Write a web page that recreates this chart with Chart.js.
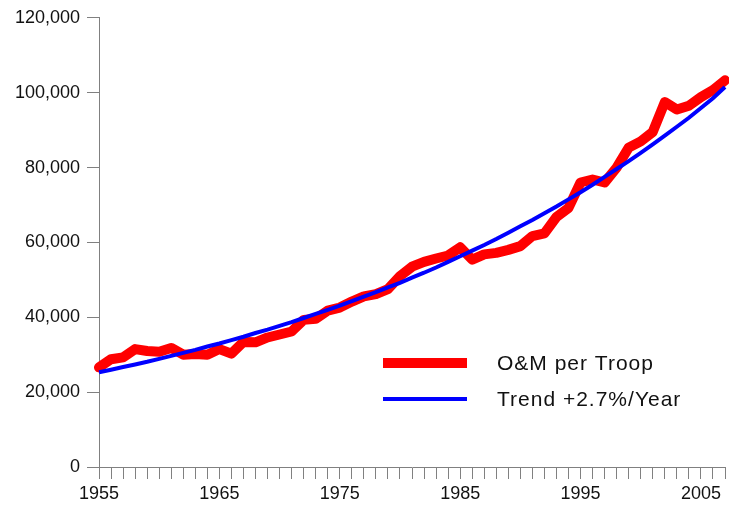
<!DOCTYPE html>
<html>
<head>
<meta charset="utf-8">
<script src="https://cdn.jsdelivr.net/npm/chart.js@4.4.1/dist/chart.umd.min.js"></script>
<style>
  html, body { margin: 0; padding: 0; background: #fff; }
  #wrap { position: relative; width: 729px; height: 508px; }
</style>
</head>
<body>
<div id="wrap"><canvas id="chart"></canvas></div>
<script>
const years = [
  1955, 1956, 1957, 1958, 1959, 1960, 1961, 1962, 1963, 1964,
  1965, 1966, 1967, 1968, 1969, 1970, 1971, 1972, 1973, 1974,
  1975, 1976, 1977, 1978, 1979, 1980, 1981, 1982, 1983, 1984,
  1985, 1986, 1987, 1988, 1989, 1990, 1991, 1992, 1993, 1994,
  1995, 1996, 1997, 1998, 1999, 2000, 2001, 2002, 2003, 2004,
  2005, 2006, 2007
];

const omPerTroop = [
  26600, 28800, 29300, 31500, 31000, 30800, 31800, 30000, 30200, 30000,
  31500, 30300, 33400, 33300, 34600, 35400, 36200, 39300, 39600, 41800,
  42600, 44200, 45600, 46200, 47500, 51000, 53500, 54800, 55700, 56500,
  58700, 55400, 56800, 57200, 58000, 59000, 61700, 62400, 66800, 69200,
  76000, 76800, 76000, 80000, 85300, 87000, 89500, 97500, 95500, 96500,
  98800, 100700, 103300
];

const trend = [
  25300, 26000, 26700, 27400, 28100, 28900, 29700, 30500, 31300, 32200,
  33000, 33900, 34800, 35800, 36700, 37700, 38700, 39800, 40900, 42000,
  43100, 44300, 45500, 46700, 48000, 49200, 50600, 51900, 53300, 54800,
  56300, 57800, 59300, 60900, 62600, 64300, 66000, 67800, 69600, 71500,
  73400, 75400, 77500, 79600, 81700, 83900, 86200, 88500, 90900, 93300,
  95900, 98500, 101500
];

const seriesNames = ["O&M per Troop", "Trend +2.7%/Year"];
const seriesColors = ["#ff0000", "#0000ff"];
const yMax = 120000;
const yStep = 20000;

const FONT = "'Liberation Sans', Arial, sans-serif";
const axisGray = "#808080";

// legend drawn inside the plot, lower right
const lineLegend = {
  id: "lineLegend",
  afterDraw(chart) {
    const ctx = chart.ctx;
    const rows = [
      { y: 363, width: 10 },
      { y: 399, width: 4 }
    ];
    ctx.save();
    rows.forEach((r, i) => {
      ctx.strokeStyle = seriesColors[i];
      ctx.lineWidth = r.width;
      ctx.lineCap = "butt";
      ctx.beginPath();
      ctx.moveTo(383, r.y);
      ctx.lineTo(467, r.y);
      ctx.stroke();

      ctx.fillStyle = "#111";
      ctx.font = "21px " + FONT;
      ctx.letterSpacing = "1px";
      ctx.textBaseline = "middle";
      ctx.textAlign = "left";
      ctx.fillText(seriesNames[i], 497, r.y + 1);
    });
    ctx.restore();
  }
};

new Chart(document.getElementById("chart"), {
  type: "line",
  data: {
    labels: years.map(String),
    datasets: [
      {
        label: seriesNames[1],
        data: trend,
        borderColor: seriesColors[1],
        borderWidth: 4,
        pointRadius: 0,
        tension: 0,
        order: 0
      },
      {
        label: seriesNames[0],
        data: omPerTroop,
        borderColor: seriesColors[0],
        borderWidth: 10,
        borderJoinStyle: "round",
        borderCapStyle: "round",
        pointRadius: 0,
        tension: 0,
        order: 1
      }
    ]
  },
  options: {
    responsive: true,
    maintainAspectRatio: false,
    animation: false,
    layout: { autoPadding: false, padding: { top: 17, right: -3, left: 0, bottom: 0 } },
    plugins: {
      legend: { display: false },
      tooltip: { enabled: false }
    },
    scales: {
      x: {
        type: "category",
        offset: false,
        grid: {
          offset: false,
          drawOnChartArea: false,
          drawTicks: true,
          tickLength: 12,
          color: axisGray
        },
        border: { display: true, color: axisGray, width: 1 },
        ticks: {
          autoSkip: false,
          maxRotation: 0,
          minRotation: 0,
          padding: 4,
          color: "#111",
          font: { family: FONT, size: 18 },
          callback: (v, i) => (years[i] % 10 === 5 ? String(years[i]) : "")
        },
        afterFit: (scale) => { scale.height = 41; }
      },
      y: {
        min: 0,
        max: yMax,
        grid: {
          drawOnChartArea: false,
          drawTicks: true,
          tickLength: 12,
          color: axisGray
        },
        border: { display: true, color: axisGray, width: 1 },
        ticks: {
          stepSize: yStep,
          padding: 7,
          color: "#111",
          font: { family: FONT, size: 18 },
          callback: (v) => v.toLocaleString("en-US")
        },
        afterFit: (scale) => { scale.width = 99; }
      }
    }
  },
  plugins: [lineLegend]
});
</script>
</body>
</html>
